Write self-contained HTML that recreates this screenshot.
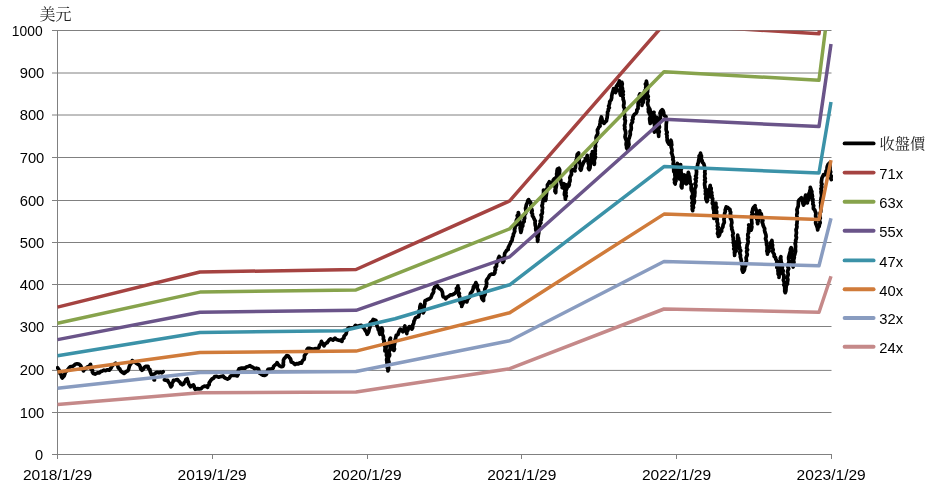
<!DOCTYPE html>
<html><head><meta charset="utf-8"><title>chart</title>
<style>
html,body{margin:0;padding:0;background:#fff;}
svg{display:block}
text{font-family:"Liberation Sans","Noto Sans CJK TC",sans-serif;font-size:14.6px;fill:#000}
.cj{font-family:"Liberation Serif","Noto Serif CJK SC",serif;font-size:16px;fill:#222}
.g line{stroke:#808080;stroke-width:1}
.b path{fill:none;stroke-width:3.5;stroke-linejoin:round;stroke-linecap:butt}
</style></head><body>
<svg width="935" height="490" viewBox="0 0 935 490">
<rect width="935" height="490" fill="#fff"/>
<defs><clipPath id="c"><rect x="56" y="30.5" width="777" height="425"/></clipPath></defs>
<g class="g"><line x1="52" y1="412.5" x2="831.5" y2="412.5"/><line x1="52" y1="370.4" x2="831.5" y2="370.4"/><line x1="52" y1="326.5" x2="831.5" y2="326.5"/><line x1="52" y1="284.5" x2="831.5" y2="284.5"/><line x1="52" y1="242.5" x2="831.5" y2="242.5"/><line x1="52" y1="200.5" x2="831.5" y2="200.5"/><line x1="52" y1="157.5" x2="831.5" y2="157.5"/><line x1="52" y1="115.0" x2="831.5" y2="115.0"/><line x1="52" y1="73.0" x2="831.5" y2="73.0"/><line x1="52" y1="30.5" x2="831.5" y2="30.5"/><line x1="57.5" y1="30" x2="57.5" y2="459"/><line x1="52" y1="454.5" x2="831.5" y2="454.5"/><line x1="57.5" y1="454" x2="57.5" y2="459"/><line x1="212.5" y1="454" x2="212.5" y2="459"/><line x1="367.5" y1="454" x2="367.5" y2="459"/><line x1="521.5" y1="454" x2="521.5" y2="459"/><line x1="676.5" y1="454" x2="676.5" y2="459"/><line x1="831.5" y1="454" x2="831.5" y2="459"/></g>
<g clip-path="url(#c)">
<path d="M57.5,367.7 L58.4,369.1 L59.3,370.5 L59.6,372.2 L60.1,373.7 L61.4,374.9 L61.5,376.6 L62.2,378.0 L64.1,376.0 L64.8,374.2 L65.3,372.3 L66.7,370.9 L68.0,369.3 L69.3,367.7 L70.7,366.5 L72.5,366.4 L74.0,365.5 L75.2,364.2 L77.0,363.8 L78.8,364.0 L80.2,365.1 L81.1,366.5 L81.4,368.2 L83.0,369.2 L83.4,370.9 L84.4,369.3 L86.1,368.4 L87.3,367.0 L89.3,366.2 L90.5,364.4 L90.8,366.0 L91.4,367.5 L91.0,369.2 L92.6,370.5 L92.4,372.2 L93.4,373.5 L95.0,374.1 L96.4,373.4 L97.9,372.8 L99.5,372.8 L100.8,371.5 L102.4,370.9 L104.0,370.2 L105.7,370.6 L107.5,369.8 L109.2,370.2 L110.2,369.0 L111.2,367.8 L111.9,366.3 L113.0,365.1 L114.3,364.2 L115.6,363.2 L117.0,364.4 L117.8,365.9 L118.2,367.7 L119.8,369.0 L120.6,370.9 L122.0,372.2 L124.0,373.4 L125.2,372.5 L126.4,371.5 L127.8,370.9 L128.6,369.3 L129.0,367.6 L129.5,365.9 L130.4,364.4 L131.7,362.7 L132.3,360.6 L133.5,361.7 L135.1,362.1 L136.2,363.2 L137.8,364.2 L139.4,365.1 L140.2,366.8 L140.7,368.7 L142.0,370.2 L143.4,369.1 L144.2,367.5 L145.6,366.4 L148.1,366.4 L148.2,368.3 L149.9,369.5 L150.1,371.3 L150.8,372.9 L151.3,374.6 L153.0,374.6 L154.6,373.9 L155.8,372.8 L157.3,372.3 L158.9,372.8 L160.4,372.2 L161.9,372.8 L163.2,371.7 M154.0,379.9 L154.5,380.0 M164.4,379.9 L166.0,380.3 L167.7,380.3 L168.4,382.1 L169.7,383.6 L170.2,385.2 L170.9,386.8 L172.0,385.4 L171.9,383.5 L173.0,382.0 L173.4,380.3 L175.4,380.0 L177.4,379.5 L178.5,380.9 L179.9,382.1 L180.8,383.8 L182.3,384.8 L183.7,383.9 L184.2,382.3 L185.4,381.3 L185.8,379.6 L187.2,378.7 L187.6,380.4 L188.3,382.0 L188.6,383.8 L189.5,385.3 L190.5,386.8 L191.8,385.6 L193.4,384.9 L194.2,386.3 L194.5,388.0 L195.4,389.4 L197.3,388.6 L199.3,388.9 L201.2,388.7 L202.5,387.1 L204.4,386.2 L206.2,386.3 L207.6,387.4 L207.7,385.8 L209.2,384.7 L209.1,383.0 L209.9,381.7 L210.8,380.4 L212.0,379.0 L213.7,378.1 L214.7,376.5 L216.7,376.3 L218.5,377.2 L220.0,376.7 L221.5,376.4 L223.0,375.9 L224.2,377.4 L225.8,378.4 L227.5,379.1 L229.3,378.2 L230.3,376.3 L232.0,375.2 L233.7,375.3 L235.5,375.5 L237.2,375.9 L238.2,374.3 L238.7,372.5 L238.2,370.5 L239.1,368.8 L241.0,368.2 L242.9,368.1 L244.9,368.2 L246.4,367.0 L248.3,366.4 L250.0,365.6 L251.4,366.8 L253.2,367.5 L254.5,368.8 L256.4,368.2 L258.4,368.8 L258.9,370.3 L259.4,371.8 L259.7,373.3 L261.3,374.3 L262.9,375.2 L264.6,375.5 L266.1,374.6 L267.0,373.0 L267.4,371.1 L268.0,369.4 L269.8,369.1 L271.5,368.8 L273.2,368.2 L273.6,366.3 L275.0,365.0 L276.4,364.1 L277.1,362.6 L278.1,364.4 L279.6,365.8 L281.2,366.6 L282.9,366.4 L283.5,364.9 L283.2,363.3 L283.5,361.8 L283.4,360.2 L284.1,358.7 L285.5,357.2 L286.7,355.5 L288.3,356.0 L289.3,357.4 L290.5,358.7 L290.9,360.3 L291.2,361.9 L292.7,362.4 L293.9,363.5 L295.1,364.5 L296.6,363.6 L298.3,363.9 L299.8,362.9 L301.5,363.2 L302.0,361.7 L302.8,360.4 L304.1,359.4 L304.4,357.6 L304.4,355.8 L305.4,354.2 L306.5,352.9 L306.8,351.4 L306.9,349.7 L307.9,348.4 L309.4,348.3 L310.9,348.7 L312.4,349.1 L314.1,348.9 L315.9,348.6 L317.6,349.1 L319.0,347.3 L319.5,345.2 L321.0,343.6 L321.4,341.4 L322.3,342.9 L323.2,344.4 L324.0,345.9 L324.7,344.5 L325.8,343.4 L327.2,342.7 L328.1,341.3 L329.2,339.9 L330.5,338.8 L333.0,340.1 L335.0,338.2 L336.4,339.5 L338.2,340.1 L340.2,340.3 L342.0,341.4 L342.1,339.4 L343.9,338.1 L344.0,336.2 L345.9,334.3 L346.4,332.9 L346.4,331.3 L347.4,330.0 L347.8,328.5 L349.2,327.7 L350.8,328.1 L352.3,327.9 L354.3,327.1 L355.5,325.3 L357.0,326.1 L358.7,325.9 L361.3,325.3 L362.2,326.7 L363.7,327.6 L364.5,329.1 L365.5,330.8 L366.6,332.4 L367.1,334.3 L368.4,332.5 L369.0,330.4 L369.3,328.8 L370.0,327.3 L369.7,325.6 L369.8,324.0 L370.5,322.5 L372.2,321.3 L373.2,319.5 L376.0,320.5 L375.8,322.1 L376.4,323.6 L376.8,325.0 L377.2,326.5 L378.0,327.9 L378.2,329.6 L379.3,331.0 L379.4,332.7 L379.9,334.3 L380.2,332.6 L380.3,330.9 L380.7,329.3 L381.8,327.9 L382.3,329.4 L382.6,330.9 L382.3,332.6 L382.2,334.2 L383.0,335.6 L383.5,337.3 L383.3,339.1 L384.3,340.7 L383.8,342.5 L383.9,344.2 L384.8,345.8 L385.1,347.5 L385.2,349.3 L384.9,351.0 L385.0,349.2 L385.4,347.5 L386.2,345.9 L386.1,347.5 L385.9,349.1 L386.1,350.6 L386.7,352.1 L386.5,353.7 L386.4,355.3 L387.5,356.8 L386.8,358.4 L386.6,360.0 L386.9,361.5 L387.0,363.1 L387.5,364.6 L388.0,366.2 L387.3,367.8 L388.0,369.3 L387.9,370.9 L388.4,369.4 L388.7,367.9 L388.1,366.3 L388.2,364.8 L389.1,363.3 L388.9,361.7 L388.3,360.2 L388.3,358.6 L388.5,357.1 L389.6,355.6 L389.6,354.1 L388.8,352.5 L389.4,351.0 L390.0,349.4 L390.3,347.9 L390.0,346.2 L389.8,344.6 L390.2,343.0 L389.7,341.4 L389.7,339.7 L390.5,338.2 L390.1,339.8 L390.8,341.2 L391.2,342.7 L390.9,344.3 L391.8,345.7 L392.0,347.2 L392.5,349.0 L393.9,350.4 L394.5,349.0 L394.0,347.3 L394.2,345.9 L394.5,344.4 L394.7,342.9 L395.3,341.4 L395.1,339.9 L395.6,338.4 L395.9,336.9 L396.3,335.3 L398.0,334.6 L398.4,333.0 L399.2,331.0 L400.4,329.1 L401.7,330.4 L402.9,331.7 L403.5,330.3 L404.4,329.0 L404.3,327.3 L404.9,325.9 L404.8,327.6 L405.7,329.0 L406.0,330.5 L406.4,332.1 L406.8,333.6 L406.9,331.6 L408.0,330.1 L408.4,328.2 L409.4,326.6 L411.1,327.4 L411.9,329.1 L412.7,327.7 L412.3,325.9 L413.1,324.5 L413.8,323.0 L413.9,321.4 L414.7,319.7 L415.4,317.9 L416.9,317.1 L418.6,316.7 L418.9,315.2 L419.2,313.6 L419.7,312.1 L419.1,310.5 L419.9,309.0 L419.8,307.4 L420.1,305.9 L420.6,304.4 L420.8,306.2 L421.6,307.8 L422.1,309.5 L422.4,311.2 L423.2,312.8 L424.0,311.4 L423.6,309.7 L424.1,308.2 L424.2,306.7 L424.4,305.2 L424.9,303.7 L424.8,302.1 L425.1,300.6 L426.6,300.0 L428.1,299.3 L429.6,298.7 L431.0,297.5 L431.6,295.8 L432.2,294.2 L433.2,292.9 L433.7,291.6 L433.4,289.8 L434.3,288.5 L434.7,287.1 L437.3,285.8 L438.2,287.5 L439.6,288.7 L441.2,289.7 L442.1,291.3 L442.6,293.1 L442.7,294.9 L443.1,296.7 L444.7,297.3 L445.7,298.7 L447.1,297.1 L448.9,296.1 L450.3,294.9 L452.1,294.8 L453.8,294.0 L455.3,292.9 L456.2,291.6 L456.8,290.2 L456.4,288.5 L457.6,287.3 L457.9,285.8 L457.9,287.4 L458.8,288.8 L458.1,290.5 L458.2,292.0 L459.4,293.4 L458.7,295.0 L459.7,296.5 L459.8,298.0 L460.2,299.7 L459.9,301.5 L460.5,303.1 L461.7,304.6 L461.7,306.4 L462.3,304.6 L463.1,302.9 L463.7,301.2 L465.3,301.3 L466.9,301.9 L467.3,300.1 L468.3,298.5 L469.6,297.2 L470.1,295.4 L470.5,293.2 L472.0,291.6 L472.7,290.1 L473.2,288.6 L473.4,286.9 L474.4,285.5 L475.4,284.2 L475.9,282.6 L476.4,284.1 L477.5,285.5 L476.9,287.4 L477.6,288.9 L478.5,290.3 L478.6,292.1 L480.3,293.2 L480.7,294.8 L481.6,296.2 L481.7,298.0 L482.4,299.5 L483.6,300.6 L483.5,298.9 L483.6,297.3 L484.2,295.7 L485.1,294.2 L485.2,292.6 L484.7,290.9 L484.8,289.2 L485.5,287.7 L486.4,286.3 L486.3,284.7 L486.8,283.3 L486.3,281.6 L486.6,280.1 L487.5,278.7 L488.5,277.6 L489.1,276.1 L490.0,274.9 L491.9,274.0 L493.9,274.2 L494.9,272.7 L494.9,271.0 L495.6,269.5 L495.1,267.6 L496.5,266.2 L496.5,264.5 L496.5,262.7 L498.0,261.5 L498.1,259.7 L498.5,258.0 L499.2,256.5 L500.4,258.1 L501.7,259.7 L503.0,262.3 L503.9,261.0 L503.5,259.3 L503.6,257.8 L504.5,256.4 L504.5,254.9 L504.7,253.3 L505.6,252.0 L506.6,250.4 L508.2,249.4 L508.2,247.7 L508.9,246.3 L509.6,244.9 L510.4,243.5 L510.8,241.9 L512.0,240.6 L512.3,238.9 L512.5,237.3 L513.3,235.9 L513.4,234.2 L514.1,232.8 L514.8,231.3 L514.4,229.7 L515.0,228.2 L515.0,226.6 L516.2,225.3 L516.2,223.7 L516.4,222.2 L516.3,220.5 L517.0,219.0 L517.9,217.5 L517.2,215.6 L518.4,214.2 L518.3,212.5 L518.7,214.0 L518.8,215.6 L518.7,217.2 L519.5,218.7 L519.6,220.3 L519.7,221.9 L520.2,223.4 L519.7,224.9 L520.6,226.4 L520.1,227.9 L520.4,229.4 L520.6,230.9 L520.9,232.4 L521.3,230.8 L521.7,229.1 L521.8,227.4 L522.8,226.0 L522.7,224.3 L523.0,222.8 L524.2,221.5 L524.0,219.8 L524.7,218.3 L524.5,216.6 L524.5,214.9 L525.7,213.4 L525.9,211.7 L525.8,210.0 L525.5,208.3 L526.0,206.7 L526.2,205.2 L526.8,203.8 L527.5,202.4 L527.7,200.9 L528.6,199.6 L529.5,201.1 L530.6,202.4 L531.2,204.1 L530.8,205.8 L530.9,207.5 L531.7,209.1 L532.2,210.7 L531.5,212.4 L532.5,214.0 L532.4,215.7 L533.6,217.6 L534.4,219.6 L535.3,221.0 L535.0,222.6 L535.1,224.1 L535.3,225.6 L535.9,227.0 L535.7,228.6 L535.9,230.2 L536.8,231.7 L536.7,233.4 L537.2,234.9 L537.0,236.6 L537.7,238.1 L538.0,239.7 L537.6,241.4 L537.5,239.8 L537.6,238.2 L538.2,236.6 L538.3,235.0 L538.7,233.4 L538.8,231.8 L539.0,230.2 L538.9,228.6 L539.7,227.2 L539.5,225.6 L539.8,224.1 L540.9,222.9 L540.2,221.1 L541.3,219.8 L541.4,218.3 L541.7,216.8 L541.0,215.1 L542.2,213.6 L542.4,212.1 L542.1,210.5 L542.4,209.0 L542.6,207.4 L541.9,205.8 L542.5,204.3 L542.6,202.7 L543.1,201.2 L543.2,199.6 L543.3,198.0 L543.1,196.5 L543.7,194.9 L543.5,193.3 L543.6,191.8 L543.5,190.2 L544.2,191.9 L544.7,193.5 L544.9,195.3 L544.9,197.0 L545.6,198.7 L545.4,200.5 L546.0,199.0 L545.9,197.4 L546.2,195.9 L546.4,194.3 L546.6,192.8 L546.6,191.2 L546.2,189.6 L547.4,188.1 L547.5,186.6 L547.4,185.0 L548.4,183.4 L549.3,181.8 L550.9,182.8 L552.5,183.7 L553.3,182.1 L553.2,180.1 L554.4,178.6 L554.2,180.2 L555.0,181.7 L555.4,183.2 L555.3,184.8 L554.8,186.5 L555.6,188.0 L555.1,189.6 L554.9,191.2 L555.7,192.7 L555.8,191.1 L555.7,189.6 L556.0,188.0 L556.3,186.5 L556.5,184.9 L556.4,183.4 L556.5,181.8 L555.9,180.2 L556.1,178.7 L556.3,177.1 L557.0,175.6 L556.6,174.0 L557.0,172.5 L557.0,170.9 L557.4,169.2 L558.9,168.3 L559.7,169.9 L559.6,171.7 L559.3,173.5 L559.5,175.2 L559.8,176.9 L560.2,178.6 L560.8,180.0 L560.8,181.6 L561.2,183.1 L561.6,184.6 L562.4,186.0 L562.2,187.6 L563.6,185.9 L564.1,183.7 L564.6,185.2 L563.7,186.9 L563.9,188.4 L565.2,189.8 L564.8,191.4 L564.5,193.0 L564.4,194.6 L565.2,196.1 L565.6,197.6 L565.4,199.2 L565.2,197.6 L566.3,196.1 L565.5,194.4 L566.1,192.9 L565.7,191.3 L566.3,189.7 L567.0,188.2 L566.1,186.5 L566.7,185.0 L568.6,186.3 L569.3,184.7 L569.2,182.9 L570.0,181.2 L570.1,179.5 L569.8,177.7 L570.5,176.0 L571.5,174.5 L571.4,172.8 L571.3,171.0 L572.4,169.6 L575.0,170.9 L574.6,169.2 L575.4,167.7 L575.6,166.2 L575.6,164.6 L575.6,162.9 L576.1,161.4 L576.2,159.8 L577.1,158.3 L576.9,156.7 L577.2,154.5 L578.6,152.9 L578.5,154.5 L578.6,156.1 L579.7,157.6 L578.9,159.3 L579.3,160.8 L579.3,162.4 L580.3,163.9 L580.4,165.5 L580.5,167.0 L580.0,168.7 L580.8,170.2 L581.4,168.8 L581.6,167.2 L582.1,165.8 L582.7,164.4 L583.3,163.0 L583.9,161.5 L585.3,160.6 L585.4,158.7 L587.0,157.3 L587.2,155.4 L587.7,156.9 L587.1,158.6 L588.2,160.1 L588.4,161.7 L588.3,163.3 L588.9,164.8 L588.9,166.4 L588.4,168.1 L589.2,169.6 L590.0,168.0 L590.2,166.2 L590.3,164.5 L591.0,162.8 L591.3,161.1 L591.1,159.3 L591.4,157.8 L591.9,156.3 L591.3,154.6 L592.4,153.2 L592.4,151.6 L592.7,153.2 L592.6,154.8 L592.9,156.4 L593.6,158.0 L594.2,159.5 L593.3,161.3 L594.5,162.7 L594.3,164.4 L594.4,162.9 L594.3,161.4 L594.4,159.9 L595.0,158.4 L595.5,156.9 L594.6,155.4 L595.3,153.9 L594.9,152.4 L595.3,150.9 L595.2,149.4 L595.1,147.9 L595.6,146.4 L595.3,144.6 L595.5,142.9 L596.6,141.2 L596.2,139.5 L596.0,137.7 L596.5,136.0 L597.4,134.6 L597.8,133.2 L597.5,131.5 L597.4,130.0 L598.2,128.6 L598.8,127.1 L600.1,126.0 L599.8,124.4 L600.3,123.0 L600.2,121.4 L600.6,120.0 L600.9,118.5 L601.4,117.0 L601.9,118.6 L602.2,120.4 L603.0,121.9 L603.9,123.4 L605.1,122.1 L606.5,120.9 L606.7,119.2 L607.2,117.5 L607.3,115.7 L607.6,114.0 L607.5,112.2 L608.4,110.6 L608.3,109.1 L609.4,107.7 L608.6,106.0 L609.3,104.6 L609.7,103.1 L609.7,101.6 L611.1,99.9 L611.7,97.7 L611.7,96.1 L612.0,94.6 L612.3,93.1 L612.8,91.7 L613.2,90.2 L613.6,88.7 L614.0,90.9 L615.5,92.6 L616.3,91.2 L616.7,89.6 L616.0,87.8 L616.4,86.3 L617.4,84.9 L618.6,83.1 L619.4,81.0 L619.0,82.6 L619.7,84.2 L619.7,85.7 L620.6,87.3 L620.3,88.9 L619.7,90.5 L620.0,92.1 L620.1,93.7 L620.7,95.2 L621.5,93.6 L620.7,91.9 L620.6,90.3 L620.9,88.7 L621.5,87.1 L621.8,85.5 L622.3,84.0 L621.9,82.3 L621.7,83.9 L622.0,85.4 L621.9,86.9 L622.5,88.5 L622.5,90.0 L623.3,91.5 L622.4,93.1 L623.3,94.6 L622.5,96.2 L623.2,97.7 L623.1,99.2 L623.7,100.7 L624.0,102.2 L624.0,103.7 L623.6,105.3 L623.7,106.8 L624.5,108.3 L624.7,109.8 L624.2,111.4 L624.3,112.9 L624.5,114.4 L624.7,116.0 L625.0,117.6 L624.6,119.2 L625.4,120.7 L625.1,122.3 L625.0,123.9 L624.4,125.5 L624.9,127.1 L624.6,128.7 L625.2,130.2 L625.6,131.8 L625.7,133.4 L625.4,135.0 L625.0,136.7 L625.4,138.3 L626.1,139.9 L626.6,141.4 L626.2,143.1 L626.1,144.8 L626.6,146.4 L626.6,148.0 L627.7,149.6 L627.6,147.9 L628.4,146.2 L629.0,144.6 L628.7,142.8 L628.6,141.1 L628.6,139.4 L629.3,137.9 L629.7,136.3 L630.3,134.7 L630.3,133.0 L630.1,131.3 L631.1,129.9 L631.3,128.2 L631.2,126.6 L631.0,124.9 L631.6,123.4 L632.6,122.0 L632.1,120.3 L633.1,118.9 L632.8,117.2 L633.5,115.7 L634.5,114.2 L636.1,113.2 L636.9,111.7 L636.8,109.9 L638.1,108.5 L638.0,106.7 L638.2,105.1 L638.1,103.4 L638.4,101.8 L638.9,100.3 L639.5,98.7 L640.1,97.2 L639.3,95.4 L640.0,93.9 L640.4,95.5 L640.9,97.1 L640.2,98.9 L641.5,100.4 L641.9,102.0 L642.2,103.7 L641.9,105.4 L642.1,103.8 L643.2,102.4 L643.5,100.9 L643.7,99.3 L643.8,97.7 L644.8,96.1 L645.0,94.4 L644.5,92.5 L644.7,90.8 L645.9,89.2 L645.7,87.4 L646.2,85.8 L645.4,84.1 L646.4,82.6 L646.4,81.0 L646.7,82.6 L646.9,84.1 L647.1,85.7 L647.4,87.3 L647.8,88.8 L647.6,90.4 L647.6,92.0 L647.0,93.7 L647.7,95.2 L648.3,96.7 L647.2,98.3 L648.3,99.8 L648.1,101.3 L647.6,102.9 L647.7,104.4 L648.2,105.9 L648.8,107.4 L648.3,108.9 L648.5,110.5 L648.4,112.0 L649.6,110.7 L649.7,108.9 L650.2,110.5 L650.0,112.1 L649.4,113.8 L650.5,115.3 L650.1,117.0 L649.6,118.6 L649.7,120.2 L650.7,121.8 L650.2,123.4 L649.9,121.6 L650.2,119.9 L651.6,118.4 L651.0,116.5 L651.9,115.0 L651.9,113.2 L654.0,112.3 L653.5,113.8 L654.3,115.3 L654.4,116.8 L653.5,118.4 L654.0,119.9 L654.5,121.4 L653.9,122.9 L654.5,124.4 L654.6,125.9 L655.0,127.4 L654.0,129.0 L653.8,130.5 L654.4,132.0 L654.8,130.4 L655.5,128.8 L654.5,127.0 L655.0,125.5 L655.6,123.9 L656.5,122.4 L656.7,120.7 L656.2,119.0 L656.6,117.4 L657.1,118.9 L657.0,120.5 L657.1,122.1 L656.7,123.8 L657.9,125.2 L657.3,126.9 L657.5,128.5 L657.6,130.0 L657.8,131.6 L658.2,133.2 L658.7,134.7 L658.7,136.3 L658.6,134.7 L658.7,133.2 L659.3,131.7 L658.5,130.1 L658.7,128.6 L659.5,127.1 L659.0,125.5 L658.8,123.9 L658.9,122.4 L659.6,120.9 L659.4,119.3 L660.4,117.9 L660.3,116.3 L660.5,114.8 L660.0,113.2 L660.8,111.3 L662.2,109.7 L663.2,111.0 L663.7,112.5 L663.8,114.2 L664.3,115.7 L666.0,116.6 L665.8,118.2 L666.2,119.8 L666.6,121.3 L666.4,122.9 L666.2,124.5 L666.2,126.1 L666.2,127.7 L666.1,129.3 L666.4,130.8 L667.2,132.4 L666.4,134.0 L667.1,135.5 L666.9,137.1 L667.2,138.7 L667.1,140.3 L667.8,142.3 L669.0,144.1 L669.6,142.0 L670.9,140.3 L671.4,141.8 L671.5,143.4 L671.8,145.0 L671.0,146.6 L671.5,148.1 L672.0,149.7 L672.0,151.3 L671.4,152.9 L672.2,154.4 L672.5,156.0 L673.2,157.6 L672.8,159.4 L673.5,160.9 L673.4,162.5 L673.1,164.0 L674.4,165.5 L674.0,167.1 L673.7,168.6 L673.7,170.2 L673.8,171.7 L675.0,173.2 L674.8,174.7 L675.1,176.3 L675.1,177.8 L674.2,179.4 L674.9,180.9 L674.5,182.5 L675.2,184.0 L675.2,182.4 L676.0,180.9 L675.6,179.2 L675.6,177.6 L676.4,176.1 L676.8,174.6 L675.9,172.9 L676.7,171.3 L676.9,169.8 L676.5,168.1 L676.9,166.6 L676.8,164.9 L677.4,163.4 L678.0,164.9 L678.1,166.5 L677.8,168.1 L678.0,169.6 L678.7,171.1 L679.2,172.6 L679.0,174.2 L678.7,175.8 L679.5,177.3 L679.3,178.9 L679.2,177.3 L679.2,175.7 L680.1,174.2 L679.9,172.6 L679.5,171.0 L679.7,169.4 L680.2,167.8 L680.5,166.3 L680.6,164.7 L680.5,166.3 L681.3,167.8 L681.3,169.3 L680.7,170.9 L681.2,172.4 L681.4,174.0 L681.5,175.5 L680.7,177.1 L681.6,178.6 L681.4,180.2 L681.7,181.7 L681.7,183.3 L681.3,184.8 L681.2,186.4 L681.9,187.9 L682.0,186.3 L682.1,184.6 L683.1,183.1 L682.8,181.4 L682.8,179.7 L684.3,178.3 L684.0,176.6 L684.4,175.0 L684.3,176.6 L685.2,178.0 L684.9,179.6 L685.8,181.0 L686.5,182.4 L686.4,184.0 L686.0,182.2 L687.0,180.7 L687.4,179.1 L688.0,177.5 L687.2,175.6 L688.2,174.1 L688.3,172.4 L688.8,173.9 L688.9,175.4 L689.7,176.8 L689.8,178.3 L689.9,179.9 L690.2,181.4 L690.0,183.2 L691.4,184.7 L691.2,186.5 L691.1,188.3 L691.3,190.1 L692.2,191.7 L692.6,193.3 L692.8,194.9 L691.7,196.5 L691.7,198.0 L692.4,199.6 L693.0,201.2 L691.9,202.8 L692.7,204.4 L692.0,206.0 L692.5,207.5 L692.2,209.1 L692.7,210.7 L692.5,209.0 L693.5,207.5 L693.0,205.8 L693.5,204.1 L694.3,202.6 L694.5,201.0 L693.8,199.2 L694.1,197.6 L694.7,196.0 L694.7,194.5 L694.9,193.0 L694.9,191.4 L694.7,189.9 L694.9,188.4 L695.7,186.9 L696.0,185.4 L695.0,183.8 L695.8,182.3 L696.1,180.8 L695.3,179.2 L696.5,177.8 L695.6,176.2 L696.4,174.7 L696.4,173.2 L696.6,171.7 L696.3,170.1 L696.7,168.6 L697.0,167.0 L697.6,165.5 L697.7,164.0 L698.4,162.5 L698.6,160.9 L698.9,159.3 L699.3,157.8 L699.1,156.1 L700.3,154.8 L700.5,153.2 L700.8,154.7 L701.5,156.1 L701.1,157.8 L701.4,159.3 L702.1,160.7 L702.4,162.2 L703.8,163.9 L704.4,166.0 L704.5,167.6 L705.0,169.1 L705.0,170.7 L704.7,172.3 L705.1,173.8 L704.7,175.4 L704.7,177.0 L705.3,178.5 L704.6,180.1 L705.4,181.6 L704.6,183.2 L704.6,184.8 L704.9,186.3 L705.0,187.9 L705.8,189.4 L705.4,191.0 L705.8,192.5 L705.3,194.1 L706.5,195.5 L705.8,197.2 L705.8,198.7 L706.4,200.2 L706.9,201.7 L707.6,200.2 L707.1,198.4 L708.5,197.0 L708.1,195.3 L709.0,193.8 L709.3,192.2 L708.7,190.4 L709.4,188.9 L710.2,187.2 L710.2,185.3 L709.9,186.9 L711.2,188.2 L711.1,189.7 L710.8,191.3 L711.8,192.7 L711.1,194.3 L712.1,195.7 L711.6,197.3 L712.7,198.6 L712.5,200.2 L712.7,201.7 L712.3,203.3 L713.3,204.7 L713.3,206.2 L713.1,207.8 L713.5,209.3 L714.0,210.8 L713.9,212.3 L714.0,213.8 L713.1,215.4 L713.6,216.9 L713.9,218.4 L714.6,216.9 L713.9,215.3 L714.9,213.8 L714.2,212.2 L714.9,210.7 L715.3,209.2 L715.1,207.6 L716.0,206.1 L715.8,204.5 L715.9,203.0 L715.9,204.5 L715.6,206.1 L716.8,207.5 L715.7,209.1 L716.3,210.6 L716.7,212.1 L716.3,213.7 L717.1,215.1 L716.3,216.7 L716.9,218.2 L717.3,219.7 L716.9,221.2 L717.5,222.7 L717.9,224.2 L717.3,225.8 L718.3,227.2 L717.4,228.8 L718.3,230.3 L717.9,231.9 L717.5,233.4 L718.2,234.9 L718.4,236.4 L719.4,235.2 L719.8,233.7 L720.3,232.2 L721.7,231.3 L721.5,229.7 L722.0,228.2 L722.9,226.9 L723.0,225.4 L723.5,223.9 L724.3,222.6 L724.2,221.0 L723.9,219.4 L724.3,217.8 L725.1,216.3 L724.5,214.6 L724.7,213.1 L725.3,211.6 L725.2,210.0 L725.8,208.4 L726.2,206.9 L727.7,207.4 L728.7,208.7 L730.0,209.4 L730.0,210.9 L730.7,212.4 L730.3,213.9 L730.7,215.4 L731.3,216.9 L730.4,218.5 L731.4,219.9 L731.7,221.4 L731.9,222.8 L731.4,224.4 L731.3,226.0 L731.9,227.4 L731.7,229.0 L732.4,230.4 L732.7,231.9 L733.3,233.4 L732.6,235.1 L732.9,236.6 L733.4,238.1 L733.2,239.6 L733.6,241.1 L733.2,242.7 L733.9,244.2 L733.7,245.8 L734.4,247.4 L733.7,249.0 L734.9,250.6 L734.4,252.2 L734.6,253.8 L734.6,255.4 L734.7,253.8 L734.9,252.2 L736.2,251.0 L735.7,249.2 L736.8,247.9 L737.2,246.4 L737.8,244.8 L736.9,243.2 L737.0,241.6 L737.6,240.0 L737.6,238.4 L737.8,236.8 L737.7,235.2 L737.6,236.8 L738.6,238.3 L738.7,239.8 L739.0,241.4 L739.6,242.9 L738.8,244.7 L739.2,246.2 L739.8,247.7 L739.7,249.3 L740.7,250.7 L739.7,252.4 L740.0,253.9 L740.5,255.4 L740.3,257.0 L740.8,258.5 L741.2,260.1 L741.5,261.6 L741.1,263.2 L741.8,264.6 L742.3,266.1 L742.3,267.7 L742.0,269.3 L742.4,270.8 L743.0,272.2 L744.1,270.7 L744.6,269.1 L744.7,267.2 L745.6,265.7 L745.8,264.1 L745.8,262.5 L746.5,260.9 L746.3,259.3 L746.1,257.7 L746.8,256.1 L747.3,254.6 L746.9,252.9 L746.6,251.3 L747.6,249.8 L746.6,248.2 L747.0,246.7 L747.1,245.1 L747.8,243.6 L748.2,242.0 L748.0,240.5 L747.6,238.9 L748.4,237.4 L747.8,235.8 L747.8,234.2 L748.7,232.7 L748.5,231.1 L748.7,229.6 L748.7,228.0 L749.2,226.5 L748.7,224.9 L749.6,226.6 L750.0,228.5 L751.2,230.0 L751.6,228.4 L751.9,226.8 L751.4,225.2 L751.9,223.6 L751.8,222.0 L751.6,220.3 L751.6,218.7 L752.2,217.1 L751.6,215.5 L752.8,214.0 L751.9,212.3 L752.5,210.7 L752.8,208.7 L753.8,207.1 L755.1,205.6 L754.8,207.2 L755.7,208.6 L756.2,210.0 L756.6,211.5 L756.8,213.0 L756.2,214.6 L756.4,216.1 L756.6,217.6 L756.7,219.1 L757.8,220.5 L757.4,222.1 L757.7,223.6 L757.8,222.0 L758.6,220.4 L758.8,218.8 L759.2,217.2 L758.3,215.5 L759.6,214.0 L759.9,212.4 L759.6,210.7 L759.7,212.6 L761.3,214.0 L761.5,215.9 L762.1,217.4 L762.5,218.9 L762.9,220.4 L762.1,222.1 L762.8,223.6 L763.1,225.4 L763.9,227.1 L764.7,228.7 L764.5,230.4 L764.9,232.0 L765.5,233.6 L766.0,235.3 L766.1,236.9 L765.5,238.7 L766.0,240.3 L766.5,241.8 L766.5,243.3 L766.6,244.9 L767.2,246.4 L767.1,247.9 L767.2,249.5 L766.8,251.1 L767.4,252.5 L767.4,254.1 L767.7,252.4 L769.0,251.1 L768.9,249.3 L769.4,247.7 L770.3,246.4 L770.5,244.9 L770.3,243.2 L771.3,241.9 L771.9,240.5 L772.1,242.0 L771.9,243.6 L772.6,245.1 L772.3,246.7 L772.7,248.3 L773.2,249.8 L772.6,251.4 L773.2,252.9 L774.3,254.3 L774.1,256.3 L775.5,257.5 L775.8,259.3 L776.8,260.8 L776.8,262.4 L776.4,264.2 L777.1,265.7 L776.8,267.5 L778.3,268.9 L777.9,270.7 L778.2,272.3 L778.1,274.0 L779.1,275.6 L779.0,277.3 L779.1,275.7 L779.1,274.1 L779.9,272.6 L779.3,270.9 L780.3,269.4 L779.6,267.8 L779.7,266.2 L780.4,264.6 L780.3,263.0 L780.0,261.4 L780.8,259.9 L780.2,258.2 L780.9,256.7 L780.7,258.3 L781.0,259.8 L781.1,261.4 L781.5,262.9 L782.1,264.4 L782.2,266.0 L782.4,267.5 L782.0,269.2 L783.2,270.6 L782.9,272.2 L782.6,273.8 L783.9,275.3 L783.8,276.9 L783.9,278.5 L783.3,280.1 L784.0,281.7 L784.3,283.2 L783.8,284.9 L784.8,286.4 L784.7,288.0 L784.8,289.6 L784.7,291.2 L785.2,292.7 L785.8,291.3 L786.0,289.8 L786.0,288.2 L786.2,286.8 L786.3,285.2 L787.5,284.0 L787.4,282.4 L787.7,280.9 L787.9,279.3 L787.2,277.8 L787.7,276.2 L788.2,274.7 L788.0,273.2 L787.5,271.6 L788.0,270.1 L788.7,268.6 L787.9,267.0 L788.0,265.4 L788.2,263.9 L788.8,262.4 L789.1,260.9 L788.7,259.3 L788.6,257.5 L789.0,255.9 L789.5,254.3 L789.9,252.6 L790.5,251.0 L790.4,249.3 L791.2,247.7 L791.6,249.3 L791.9,250.9 L791.1,252.6 L791.6,254.2 L792.5,255.7 L791.6,257.4 L792.9,258.9 L792.7,260.6 L792.1,262.2 L792.5,263.8 L792.7,265.4 L793.2,267.0 L793.3,265.4 L793.2,263.8 L794.0,262.3 L793.5,260.7 L793.9,259.1 L794.3,257.6 L794.1,256.0 L794.8,254.4 L795.1,252.9 L795.6,251.4 L795.5,249.8 L795.4,248.3 L795.6,246.7 L795.5,245.1 L795.1,243.6 L795.8,242.1 L795.6,240.5 L796.2,239.0 L796.5,237.4 L795.9,235.8 L796.2,234.3 L796.5,232.8 L796.2,231.2 L796.0,229.6 L796.7,228.1 L797.0,226.6 L796.6,225.0 L797.0,223.5 L797.0,222.0 L797.3,220.5 L797.1,219.0 L797.1,217.5 L796.9,215.9 L796.8,214.4 L797.3,212.9 L797.2,211.4 L796.9,209.6 L797.5,208.0 L798.2,206.3 L798.3,204.6 L798.4,202.8 L798.4,201.1 L799.2,199.8 L800.3,198.8 L801.4,197.7 L801.9,199.1 L802.1,200.7 L802.8,202.0 L802.9,203.6 L803.5,205.0 L804.4,203.5 L803.8,201.6 L804.8,200.1 L805.3,198.5 L805.2,196.7 L805.7,195.1 L806.1,196.7 L805.8,198.4 L807.3,199.7 L807.0,201.4 L807.4,202.9 L807.3,201.2 L808.5,199.9 L809.0,198.3 L808.9,196.7 L809.2,195.1 L808.9,193.5 L809.7,192.0 L809.9,190.5 L810.4,189.0 L810.3,187.4 L810.8,188.8 L811.2,190.3 L811.9,191.7 L811.6,193.3 L812.2,194.8 L812.5,196.3 L811.9,198.0 L813.0,199.4 L812.6,201.0 L813.1,202.5 L812.8,204.1 L813.7,205.6 L813.4,207.2 L813.4,208.8 L814.8,209.9 L815.2,211.4 L815.9,213.0 L815.7,214.6 L815.6,216.2 L816.2,217.8 L815.8,219.5 L815.9,221.1 L815.6,222.7 L816.0,224.3 L816.8,226.1 L817.4,227.9 L817.7,229.9 L818.0,227.9 L819.2,226.3 L819.5,224.3 L820.2,222.8 L819.8,221.2 L819.5,219.6 L820.3,218.1 L819.9,216.5 L819.8,214.9 L819.8,213.4 L820.7,211.9 L820.9,210.3 L820.8,208.8 L820.7,207.2 L820.7,205.7 L820.9,204.1 L820.5,202.6 L821.5,201.1 L820.8,199.5 L821.2,198.0 L821.5,196.4 L821.6,194.9 L821.2,193.3 L821.0,191.8 L821.4,190.3 L820.9,188.7 L821.9,187.2 L821.3,185.6 L822.0,184.1 L821.3,182.6 L821.5,181.0 L821.7,179.5 L822.0,177.8 L822.9,176.2 L823.6,174.6 L826.0,174.6 L825.9,172.9 L826.0,171.2 L827.2,169.8 L827.0,168.0 L827.3,166.4 L827.9,164.8 L829.5,163.0 L829.9,164.5 L829.9,166.0 L830.1,167.5 L830.0,169.0 L830.1,170.5 L830.7,172.0 L830.1,173.6 L830.4,175.0 L831.5,176.4 L830.7,178.0 L831.3,179.5" fill="none" stroke="#000" stroke-width="3.7" stroke-linejoin="round" stroke-linecap="round"/>
<g class="b"><path d="M57.5,307.1 L200.0,272.0 L356.0,269.5 L509.7,200.9 L664.0,24.3 L819.0,33.8 L831.0,-72.3" stroke="#A54341"/><path d="M57.5,323.3 L200.0,292.1 L356.0,289.9 L509.7,228.8 L664.0,71.7 L819.0,80.2 L831.0,-14.2" stroke="#87A34C"/><path d="M57.5,339.6 L200.0,312.3 L356.0,310.3 L509.7,256.8 L664.0,119.2 L819.0,126.6 L831.0,43.9" stroke="#6A5489"/><path d="M57.5,355.8 L200.0,332.4 L343.0,330.8 L395.0,318.7 L509.7,284.8 L664.0,166.6 L819.0,173.0 L831.0,102.0" stroke="#3B92A8"/><path d="M57.5,372.1 L200.0,352.5 L356.0,351.1 L509.7,312.7 L664.0,214.1 L819.0,219.4 L831.0,160.1" stroke="#D07B3A"/><path d="M57.5,388.3 L200.0,372.6 L356.0,371.5 L509.7,340.7 L664.0,261.5 L819.0,265.8 L831.0,218.2" stroke="#899CC0"/><path d="M57.5,404.6 L200.0,392.7 L356.0,391.9 L509.7,368.7 L664.0,309.0 L819.0,312.2 L831.0,276.3" stroke="#C58989"/></g>
</g>
<g><text transform="translate(43.2,459.5) scale(1.0,1)" text-anchor="end">0</text><text transform="translate(44.3,417.5) scale(1.01,1)" text-anchor="end">100</text><text transform="translate(44.3,375.4) scale(1.01,1)" text-anchor="end">200</text><text transform="translate(44.3,331.5) scale(1.01,1)" text-anchor="end">300</text><text transform="translate(44.3,289.5) scale(1.01,1)" text-anchor="end">400</text><text transform="translate(44.3,247.5) scale(1.01,1)" text-anchor="end">500</text><text transform="translate(44.3,205.5) scale(1.01,1)" text-anchor="end">600</text><text transform="translate(44.3,162.5) scale(1.01,1)" text-anchor="end">700</text><text transform="translate(44.3,120.0) scale(1.01,1)" text-anchor="end">800</text><text transform="translate(44.3,78.0) scale(1.01,1)" text-anchor="end">900</text><text transform="translate(42.6,35.5) scale(0.95,1)" text-anchor="end">1000</text><text transform="translate(57.5,480.3) scale(1.065,1)" text-anchor="middle">2018/1/29</text><text transform="translate(212.2,480.3) scale(1.065,1)" text-anchor="middle">2019/1/29</text><text transform="translate(367.0,480.3) scale(1.065,1)" text-anchor="middle">2020/1/29</text><text transform="translate(521.8,480.3) scale(1.065,1)" text-anchor="middle">2021/1/29</text><text transform="translate(676.5,480.3) scale(1.065,1)" text-anchor="middle">2022/1/29</text><text transform="translate(831.2,480.3) scale(1.065,1)" text-anchor="middle">2023/1/29</text></g>
<text x="39.5" y="20" class="cj">美元</text>
<line x1="844.6" y1="143.4" x2="873.6" y2="143.4" stroke="#000" stroke-width="3.9" stroke-linecap="round"/><text x="879.5" y="149.0" class="cj" style="font-size:15.2px">收盤價</text><line x1="844.6" y1="172.6" x2="873.6" y2="172.6" stroke="#A54341" stroke-width="3.9" stroke-linecap="round"/><text transform="translate(879.3,178.9) scale(1.01,1)">71x</text><line x1="844.6" y1="201.8" x2="873.6" y2="201.8" stroke="#87A34C" stroke-width="3.9" stroke-linecap="round"/><text transform="translate(879.3,208.1) scale(1.01,1)">63x</text><line x1="844.6" y1="230.7" x2="873.6" y2="230.7" stroke="#6A5489" stroke-width="3.9" stroke-linecap="round"/><text transform="translate(879.3,237.0) scale(1.01,1)">55x</text><line x1="844.6" y1="260.4" x2="873.6" y2="260.4" stroke="#3B92A8" stroke-width="3.9" stroke-linecap="round"/><text transform="translate(879.3,266.7) scale(1.01,1)">47x</text><line x1="844.6" y1="289.2" x2="873.6" y2="289.2" stroke="#D07B3A" stroke-width="3.9" stroke-linecap="round"/><text transform="translate(879.3,295.5) scale(1.01,1)">40x</text><line x1="844.6" y1="318.0" x2="873.6" y2="318.0" stroke="#899CC0" stroke-width="3.9" stroke-linecap="round"/><text transform="translate(879.3,324.3) scale(1.01,1)">32x</text><line x1="844.6" y1="346.8" x2="873.6" y2="346.8" stroke="#C58989" stroke-width="3.9" stroke-linecap="round"/><text transform="translate(879.3,353.1) scale(1.01,1)">24x</text>
</svg>
</body></html>
